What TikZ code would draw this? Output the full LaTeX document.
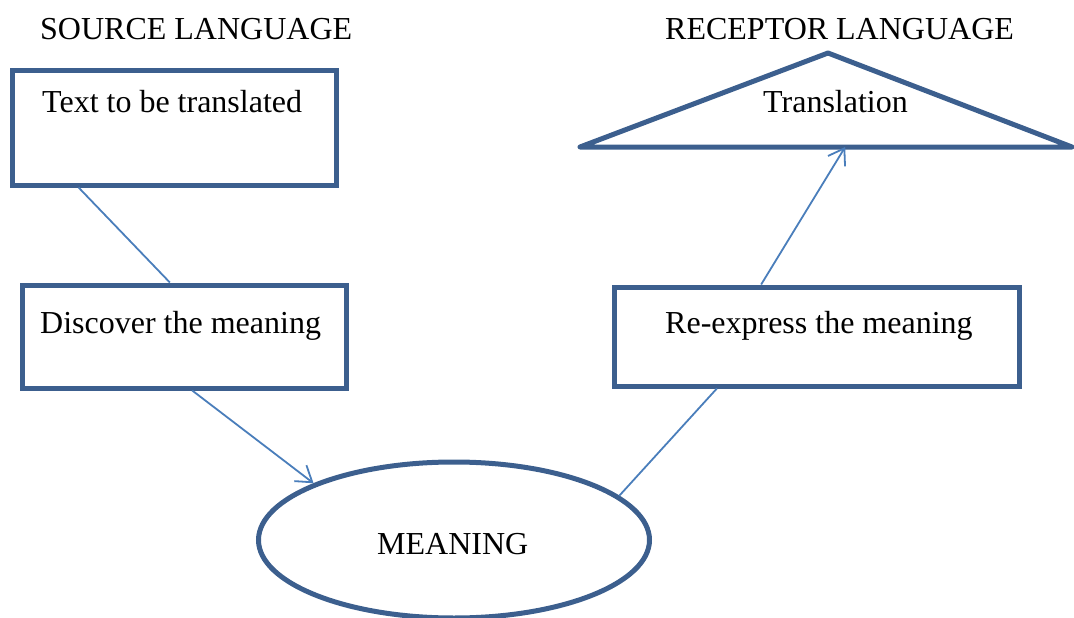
\documentclass[tikz,border=0pt]{standalone}
\usepackage{fontspec}
\setmainfont{Liberation Serif}
\usetikzlibrary{calc,shapes.geometric,arrows.meta}
\definecolor{outline}{HTML}{3C5F8E}
\definecolor{link}{HTML}{4A7EBB}
\tikzset{
  stepbox/.style={draw=outline,line width=5pt,rectangle,inner sep=0pt},
  label/.style={anchor=base west,inner sep=0pt,font=\fontsize{32}{38}\selectfont},
  connector/.style={draw=link,line width=1.8pt},
  flow/.style={connector,-{Straight Barb[length=15pt,width=20pt,line width=1.8pt]}},
}
\begin{document}
\begin{tikzpicture}[x=1pt,y=-1pt]
\useasboundingbox (0,0) rectangle (1074,618);

% headings
\node[label] (hsrc) at (40,40) {SOURCE LANGUAGE};
\node[label] (hrec) at (665,40) {RECEPTOR LANGUAGE};

% boxes
\node[stepbox,minimum width=324pt,minimum height=114pt] (text) at (174,128) {};
\node[stepbox,minimum width=324pt,minimum height=103pt] (disc) at (184,336.5) {};
\node[stepbox,minimum width=405pt,minimum height=99pt] (reex) at (816.5,336.5) {};

% triangle
\coordinate (tl) at (580,147);
\coordinate (tr) at (1072,147);
\coordinate (tt) at (828,53);
\draw[outline,line width=5pt,line join=round] (tl) -- (tt) -- (tr) -- cycle;

% ellipse
\node[draw=outline,line width=5pt,ellipse,minimum width=391pt,minimum height=156pt,inner sep=0pt] (mean) at (454,540) {};

% texts
\node[label] (ttext) at (42,112) {Text to be translated};
\node[label] (tdisc) at (40,333) {Discover the meaning};
\node[label] (treex) at (665,333) {Re-express the meaning};
\node[label] (ttrans) at (763,112) {Translation};
\node[label] (tmean) at (377,554) {MEANING};

% connectors
\draw[connector] ($(text.south west)!0.21!(text.south east)$) -- ($(disc.north west)!0.457!(disc.north east)$);
\draw[flow] ($(disc.south west)!0.525!(disc.south east)$) -- (mean.158);
\draw[connector] ($(reex.south west)!0.257!(reex.south east)$) -- (mean.15.5);
\draw[flow] ($(reex.north west)!0.365!(reex.north east)$) -- ($(tl)!0.539!(tr)$);
\end{tikzpicture}
\end{document}
